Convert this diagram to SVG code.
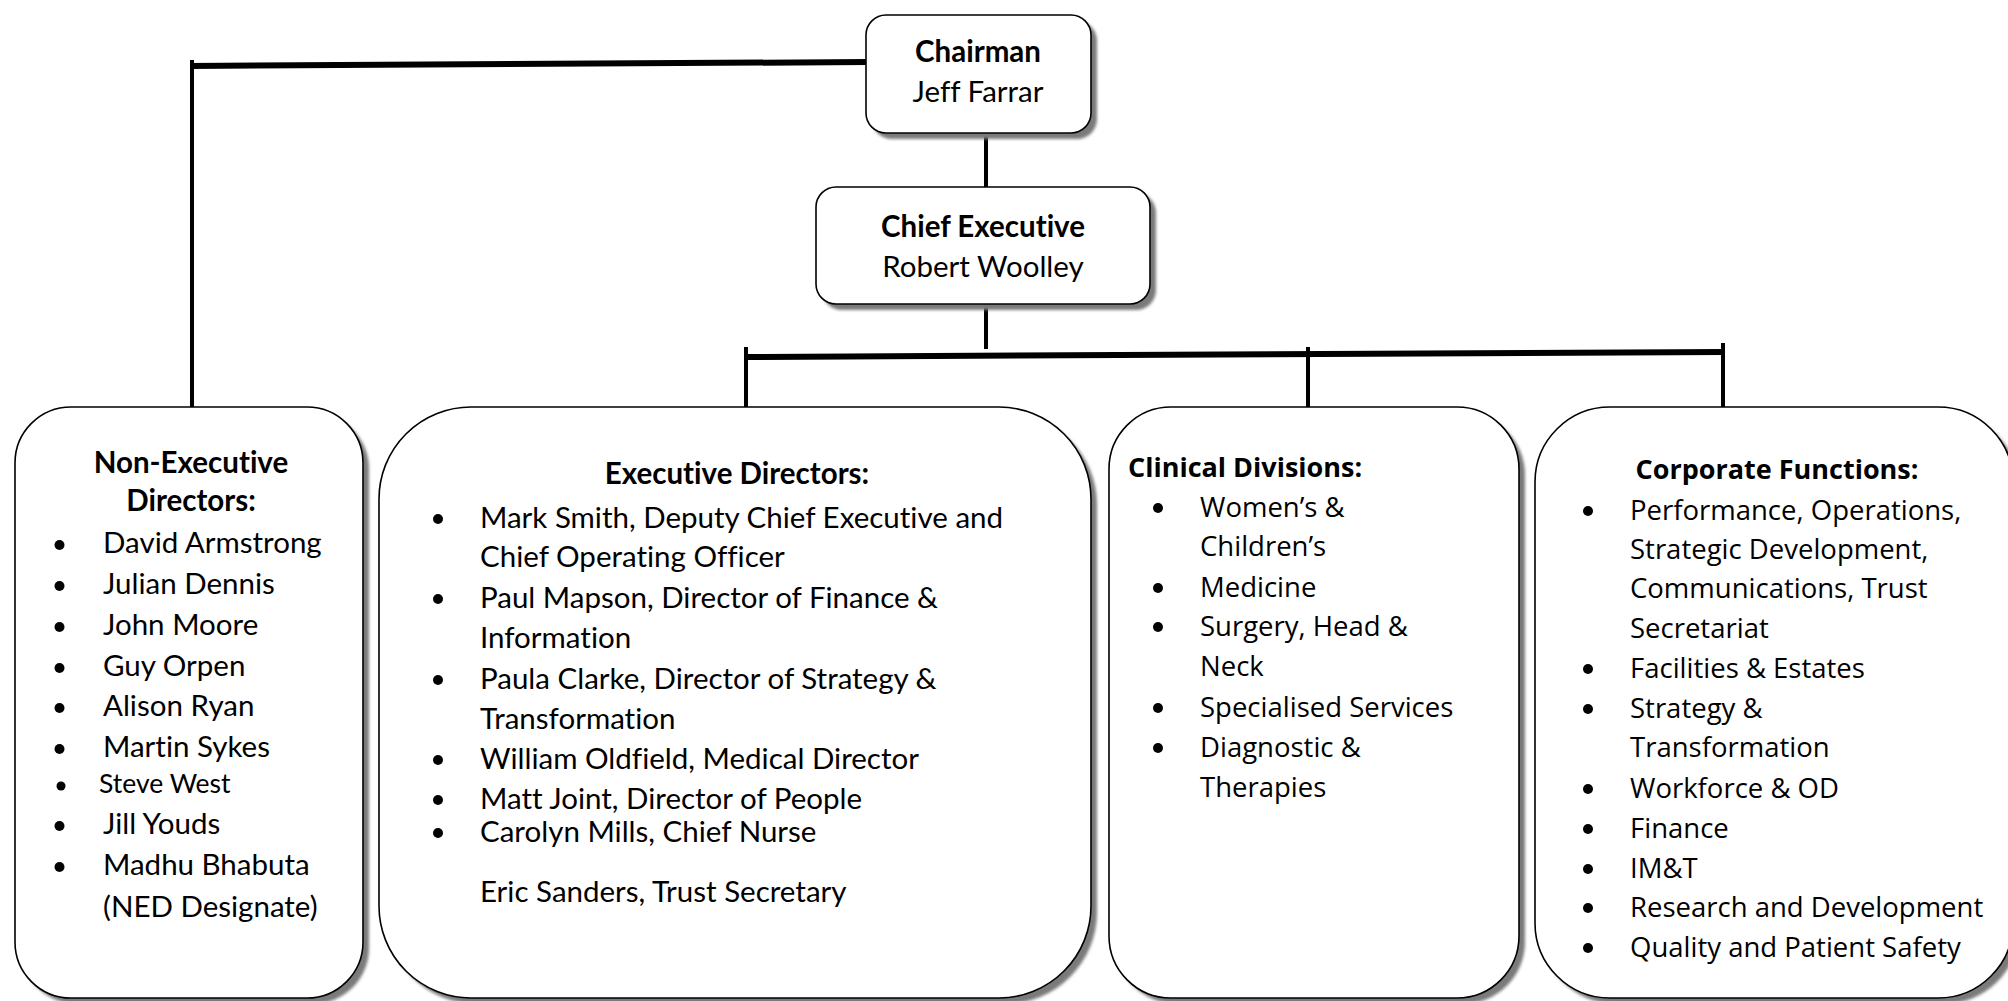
<svg xmlns="http://www.w3.org/2000/svg" width="2008" height="1001" viewBox="0 0 2008 1001">
<style>
.box{fill:#fff;stroke:#000;stroke-width:1.6}
.sh{fill:#7a7a7a;filter:url(#blur)}
text{font-variant-ligatures:none;font-feature-settings:"liga" 0,"clig" 0}
.cal{font-family:Lato,"Liberation Sans",sans-serif;font-size:29.5px;fill:#000}
.calb{font-family:Lato,"Liberation Sans",sans-serif;font-size:29.5px;font-weight:bold;fill:#000}
.seg{font-family:"Open Sans","Liberation Sans",sans-serif;font-size:27.5px;fill:#000}
.segb{font-family:"Open Sans","Liberation Sans",sans-serif;font-size:27px;font-weight:bold;fill:#000}
.mid{text-anchor:middle}
.bul{fill:#000}
.h{fill:none;stroke:#000;stroke-width:6}
.v{fill:none;stroke:#000;stroke-width:4}
</style>
<defs>
<filter id="blur" x="-5%" y="-5%" width="110%" height="110%"><feGaussianBlur stdDeviation="1.5"/></filter>
</defs>
<rect width="2008" height="1001" fill="#fff"/>
<g id="connectors">
<line class="h" x1="190" y1="66" x2="868" y2="62"/>
<line class="v" x1="192" y1="60" x2="192" y2="408"/>
<line class="v" x1="986" y1="132" x2="986" y2="187"/>
<line class="v" x1="986" y1="303" x2="986" y2="349"/>
<line class="h" x1="744" y1="357" x2="1725" y2="352"/>
<line class="v" x1="746" y1="347" x2="746" y2="408"/>
<line class="v" x1="1308" y1="347" x2="1308" y2="408"/>
<line class="v" x1="1723" y1="343" x2="1723" y2="408"/>
</g>
<g id="chairman">
<rect class="sh" x="872" y="21" width="225" height="118" rx="20"/>
<rect class="box" x="866" y="15" width="225" height="118" rx="20"/>
<text class="calb mid" x="978" y="62">Chairman</text>
<text class="cal mid" x="978" y="102">Jeff Farrar</text>
</g>
<g id="chief-executive">
<rect class="sh" x="822" y="193" width="334" height="117" rx="20"/>
<rect class="box" x="816" y="187" width="334" height="117" rx="20"/>
<text class="calb mid" x="983" y="237">Chief Executive</text>
<text class="cal mid" x="983" y="277">Robert Woolley</text>
</g>
<g id="non-executive-directors">
<rect class="sh" x="21" y="413" width="348" height="591" rx="56"/>
<rect class="box" x="15" y="407" width="348" height="591" rx="56"/>
<text class="calb mid" x="191" y="473">Non-Executive</text>
<text class="calb mid" x="191" y="511">Directors:</text>
<circle class="bul" cx="59.5" cy="545" r="5"/><text class="cal" x="103" y="553">David Armstrong</text>
<circle class="bul" cx="59.5" cy="586" r="5"/><text class="cal" x="103" y="594">Julian Dennis</text>
<circle class="bul" cx="59.5" cy="627" r="5"/><text class="cal" x="103" y="635">John Moore</text>
<circle class="bul" cx="59.5" cy="668" r="5"/><text class="cal" x="103" y="676">Guy Orpen</text>
<circle class="bul" cx="59.5" cy="708" r="5"/><text class="cal" x="103" y="716">Alison Ryan</text>
<circle class="bul" cx="59.5" cy="749" r="5"/><text class="cal" x="103" y="757">Martin Sykes</text>
<circle class="bul" cx="61" cy="786" r="4.5"/><text class="cal" x="99" y="793" style="font-size:26.5px">Steve West</text>
<circle class="bul" cx="59.5" cy="826" r="5"/><text class="cal" x="103" y="834">Jill Youds</text>
<circle class="bul" cx="59.5" cy="867" r="5"/><text class="cal" x="103" y="875">Madhu Bhabuta</text>
<text class="cal" x="103" y="917">(NED Designate)</text>
</g>
<g id="executive-directors">
<rect class="sh" x="385" y="413" width="712" height="591" rx="92"/>
<rect class="box" x="379" y="407" width="712" height="591" rx="92"/>
<text class="calb mid" x="737" y="484">Executive Directors:</text>
<circle class="bul" cx="438" cy="519" r="5"/><text class="cal" x="480" y="528">Mark Smith, Deputy Chief Executive and</text>
<text class="cal" x="480" y="567">Chief Operating Officer</text>
<circle class="bul" cx="438" cy="599" r="5"/><text class="cal" x="480" y="608">Paul Mapson, Director of Finance &amp;</text>
<text class="cal" x="480" y="648">Information</text>
<circle class="bul" cx="438" cy="680" r="5"/><text class="cal" x="480" y="689">Paula Clarke, Director of Strategy &amp;</text>
<text class="cal" x="480" y="729">Transformation</text>
<circle class="bul" cx="438" cy="760" r="5"/><text class="cal" x="480" y="769">William Oldfield, Medical Director</text>
<circle class="bul" cx="438" cy="800" r="5"/><text class="cal" x="480" y="809">Matt Joint, Director of People</text>
<circle class="bul" cx="438" cy="833" r="5"/><text class="cal" x="480" y="842">Carolyn Mills, Chief Nurse</text>
<text class="cal" x="480" y="902">Eric Sanders, Trust Secretary</text>
</g>
<g id="clinical-divisions">
<rect class="sh" x="1115" y="413" width="410" height="591" rx="62"/>
<rect class="box" x="1109" y="407" width="410" height="591" rx="62"/>
<text class="segb" x="1128" y="477">Clinical Divisions:</text>
<circle class="bul" cx="1158" cy="508" r="5"/><text class="seg" x="1200" y="517">Women’s &amp;</text>
<text class="seg" x="1200" y="556">Children’s</text>
<circle class="bul" cx="1158" cy="588" r="5"/><text class="seg" x="1200" y="597">Medicine</text>
<circle class="bul" cx="1158" cy="627" r="5"/><text class="seg" x="1200" y="636">Surgery, Head &amp;</text>
<text class="seg" x="1200" y="676">Neck</text>
<circle class="bul" cx="1158" cy="708" r="5"/><text class="seg" x="1200" y="717">Specialised Services</text>
<circle class="bul" cx="1158" cy="748" r="5"/><text class="seg" x="1200" y="757">Diagnostic &amp;</text>
<text class="seg" x="1200" y="797">Therapies</text>
</g>
<g id="corporate-functions">
<rect class="sh" x="1541" y="413" width="478" height="591" rx="75"/>
<rect class="box" x="1535" y="407" width="478" height="591" rx="75"/>
<text class="segb mid" x="1777" y="479">Corporate Functions:</text>
<circle class="bul" cx="1588" cy="511" r="5"/><text class="seg" x="1630" y="520">Performance, Operations,</text>
<text class="seg" x="1630" y="559">Strategic Development,</text>
<text class="seg" x="1630" y="598">Communications, Trust</text>
<text class="seg" x="1630" y="638">Secretariat</text>
<circle class="bul" cx="1588" cy="669" r="5"/><text class="seg" x="1630" y="678">Facilities &amp; Estates</text>
<circle class="bul" cx="1588" cy="709" r="5"/><text class="seg" x="1630" y="718">Strategy &amp;</text>
<text class="seg" x="1630" y="757">Transformation</text>
<circle class="bul" cx="1588" cy="789" r="5"/><text class="seg" x="1630" y="798">Workforce &amp; OD</text>
<circle class="bul" cx="1588" cy="829" r="5"/><text class="seg" x="1630" y="838">Finance</text>
<circle class="bul" cx="1588" cy="869" r="5"/><text class="seg" x="1630" y="878">IM&amp;T</text>
<circle class="bul" cx="1588" cy="908" r="5"/><text class="seg" x="1630" y="917">Research and Development</text>
<circle class="bul" cx="1588" cy="948" r="5"/><text class="seg" x="1630" y="957">Quality and Patient Safety</text>
</g>
</svg>
